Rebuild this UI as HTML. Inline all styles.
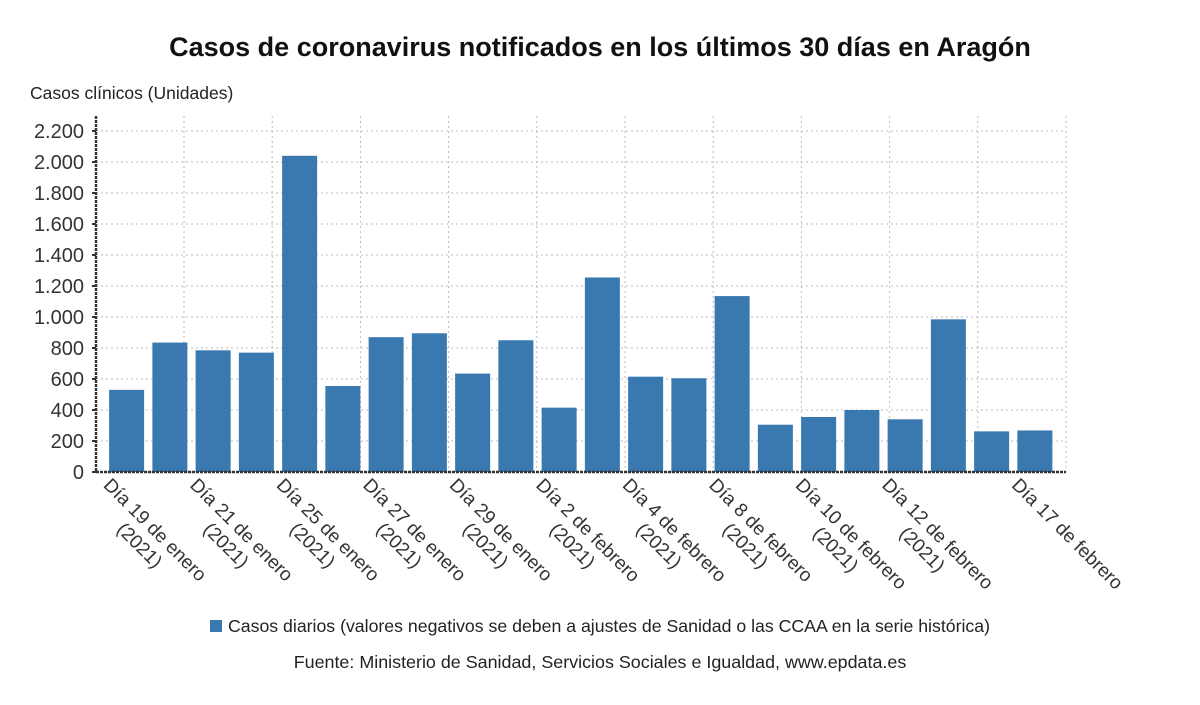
<!DOCTYPE html>
<html><head><meta charset="utf-8"><style>
body{margin:0;background:#fff;}
svg{display:block;font-family:"Liberation Sans",sans-serif;}
</style></head><body>
<svg id="chart" width="1200" height="705" viewBox="0 0 1200 705">
<text x="600" y="56" text-anchor="middle" font-size="27" font-weight="bold" fill="#111">Casos de coronavirus notificados en los últimos 30 días en Aragón</text>
<text x="30" y="99" font-size="17.5" fill="#222">Casos clínicos (Unidades)</text>
<g id="grid"></g><g id="bars"></g><g id="axes"></g><g id="labels"></g>
<rect x="210" y="620" width="12" height="12" fill="#3a78b0"/>
<text x="228" y="632" font-size="17.7" fill="#222">Casos diarios (valores negativos se deben a ajustes de Sanidad o las CCAA en la serie histórica)</text>
<text x="600" y="668" text-anchor="middle" font-size="17.9" fill="#222">Fuente: Ministerio de Sanidad, Servicios Sociales e Igualdad, www.epdata.es</text>
</svg>
<script>
const categories=["Día 19 de enero (2021)","Día 20 de enero (2021)","Día 21 de enero (2021)","Día 22 de enero (2021)","Día 25 de enero (2021)","Día 26 de enero (2021)","Día 27 de enero (2021)","Día 28 de enero (2021)","Día 29 de enero (2021)","Día 1 de febrero (2021)","Día 2 de febrero (2021)","Día 3 de febrero (2021)","Día 4 de febrero (2021)","Día 5 de febrero (2021)","Día 8 de febrero (2021)","Día 9 de febrero (2021)","Día 10 de febrero (2021)","Día 11 de febrero (2021)","Día 12 de febrero (2021)","Día 15 de febrero (2021)","Día 16 de febrero (2021)","Día 17 de febrero"];
const values=[530,835,785,770,2040,555,870,895,635,850,415,1255,615,605,1135,305,355,400,340,985,262,268];
const yTicks=[0,200,400,600,800,1000,1200,1400,1600,1800,2000,2200];
const yTickLabels=["0","200","400","600","800","1.000","1.200","1.400","1.600","1.800","2.000","2.200"];
const labeledIdx=[0,2,4,6,8,10,12,14,16,18,21];
const NS="http://www.w3.org/2000/svg";
const x0=105,slot=43.25,y0=472,pxPer=0.155,left=96,right=1066;
const xC=i=>x0+slot*(i+0.5);
const yS=v=>y0-v*pxPer;
function mk(t,a,p){const e=document.createElementNS(NS,t);for(const k in a)e.setAttribute(k,a[k]);p.appendChild(e);return e;}
const grid=document.getElementById('grid'),bars=document.getElementById('bars'),axes=document.getElementById('axes'),labels=document.getElementById('labels');
yTicks.forEach((v,i)=>{
 const g=mk('line',{x1:left,x2:right,y1:yS(v),y2:yS(v),stroke:'#bbb','stroke-dasharray':'2,3'},grid);
 
 
 const t=mk('text',{x:84,y:yS(v)+7,'text-anchor':'end','font-size':20,fill:'#333'},axes);
 t.textContent=yTickLabels[i];
 
 
 mk('line',{x1:92,x2:96,y1:yS(v),y2:yS(v),stroke:'#333','stroke-width':2},axes);
});
for(let k=0;k<=10;k++){
 const gx=184+88.2*k;
 const g=mk('line',{x1:gx,x2:gx,y1:116,y2:y0,stroke:'#bbb','stroke-dasharray':'2,3'},grid);
 
 
}
values.forEach((v,i)=>{
 const r=mk('rect',{x:xC(i)-17.5,y:yS(v),width:35,height:y0-yS(v),fill:'#3a78b0'},bars);
 
 
});
const ay=mk('line',{x1:96,x2:96,y1:116,y2:y0,stroke:'#333','stroke-width':2.5,'stroke-dasharray':'3,1'},axes);


const ax=mk('line',{x1:96,x2:right,y1:y0,y2:y0,stroke:'#333','stroke-width':2.5,'stroke-dasharray':'3,1'},axes);


labeledIdx.forEach(i=>{
 const c=categories[i];const m=c.indexOf(' (');
 const l1=m>=0?c.slice(0,m):c,l2=m>=0?c.slice(m+1):null;
 const g=mk('g',{transform:`translate(${xC(i)-17},${y0+7}) rotate(45)`},labels);
 
 
 const t1=mk('text',{x:0,y:10,'font-size':19,fill:'#333'},g);t1.textContent=l1;
 if(l2){const w=t1.getComputedTextLength();const t2=mk('text',{x:w/2,y:32,'text-anchor':'middle','font-size':19,fill:'#333'},g);t2.textContent=l2;}
});
</script>
</body></html>
